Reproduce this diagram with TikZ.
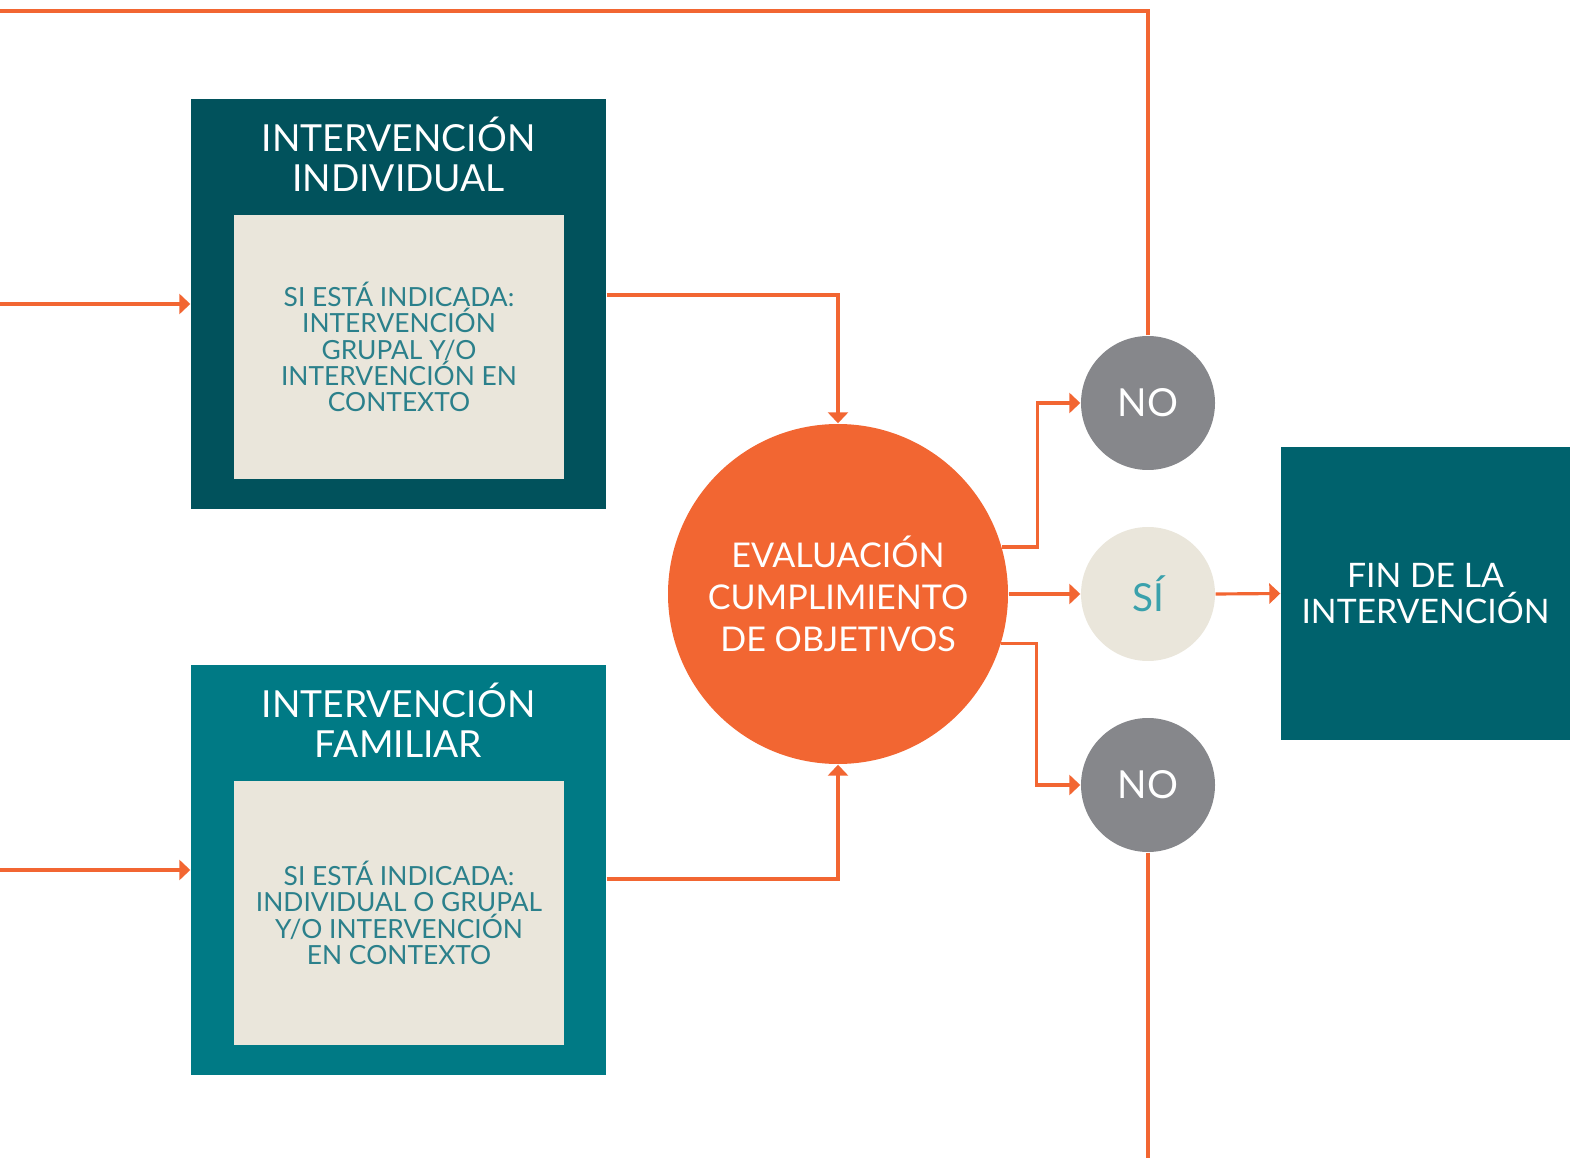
\documentclass[tikz,border=0pt]{standalone}
\usepackage{fontspec}
\setmainfont{Lato}
\usetikzlibrary{arrows.meta}

\definecolor{naranja}{HTML}{F26632}
\definecolor{tealoscuro}{HTML}{01525C}
\definecolor{tealmedio}{HTML}{007A85}
\definecolor{tealfin}{HTML}{00626D}
\definecolor{beige}{HTML}{EAE6DB}
\definecolor{gris}{HTML}{86878B}
\definecolor{textoteal}{HTML}{2B808B}
\definecolor{textosi}{HTML}{3AA1AC}

\begin{document}
\begin{tikzpicture}
\useasboundingbox (0,0) rectangle (15.70,-11.58);

\begin{scope}[every node/.style={rectangle,inner sep=0pt,align=center}]
    \node[fill=tealoscuro, minimum width=4.15cm, minimum height=4.10cm] (individual) at (3.985,-3.04) {};
    \node[text=white, font=\fontsize{10.6}{11.4}\selectfont] (individual_title) at (3.985,-1.54) {INTERVENCIÓN\\INDIVIDUAL};
    \node[fill=beige, text=textoteal, minimum width=3.30cm, minimum height=2.64cm, font=\fontsize{7.5}{7.5}\selectfont] (individual_text) at (3.99,-3.47) {SI ESTÁ INDICADA:\\INTERVENCIÓN\\GRUPAL Y/O\\INTERVENCIÓN EN\\CONTEXTO};

    \node[fill=tealmedio, minimum width=4.15cm, minimum height=4.10cm] (familiar) at (3.985,-8.70) {};
    \node[text=white, font=\fontsize{10.6}{11.4}\selectfont] (familiar_title) at (3.985,-7.20) {INTERVENCIÓN\\FAMILIAR};
    \node[fill=beige, text=textoteal, minimum width=3.30cm, minimum height=2.64cm, font=\fontsize{7.5}{7.5}\selectfont] (familiar_text) at (3.99,-9.13) {SI ESTÁ INDICADA:\\INDIVIDUAL O GRUPAL\\Y/O INTERVENCIÓN\\EN CONTEXTO};

    \node[fill=tealfin, text=white, minimum width=2.89cm, minimum height=2.93cm, font=\fontsize{9.6}{10}\selectfont] (fin) at (14.255,-5.935) {FIN DE LA\\INTERVENCIÓN};
\end{scope}

\begin{scope}[every node/.style={circle,inner sep=0pt,align=center}]
    \node[fill=naranja, text=white, minimum size=3.40cm, font=\fontsize{9.7}{12}\selectfont] (evaluacion) at (8.38,-5.94) {EVALUACIÓN\\CUMPLIMIENTO\\DE OBJETIVOS};
    \node[fill=gris, text=white, minimum size=1.34cm, font=\fontsize{11}{12}\selectfont] (no_arriba) at (11.48,-4.03) {NO};
    \node[fill=beige, text=textosi, minimum size=1.34cm, font=\fontsize{11}{12}\selectfont] (si) at (11.48,-5.94) {SÍ};
    \node[fill=gris, text=white, minimum size=1.34cm, font=\fontsize{11}{12}\selectfont] (no_abajo) at (11.48,-7.85) {NO};
\end{scope}

\coordinate (entrada_individual) at (0,-3.04);
\coordinate (entrada_familiar) at (0,-8.70);
\coordinate (retorno_arriba) at (0,-0.11);
\coordinate (retorno_abajo) at (11.48,-11.58);

\begin{scope}[>={Triangle[length=0.11cm,width=0.2cm]},
              every edge/.style={draw=naranja,line width=0.9pt}]
    \path [->] (entrada_individual) edge (individual.west);
    \path [->] (entrada_familiar) edge (familiar.west);
    \path [->] (evaluacion.east) edge (si.west);
    \path [->] (si.east) edge (fin.west);

    \draw [->, naranja, line width=0.9pt] ([yshift=0.09cm]individual.east) -| (evaluacion.north);
    \draw [->, naranja, line width=0.9pt] ([yshift=-0.09cm]familiar.east) -| (evaluacion.south);
    \draw [->, naranja, line width=0.9pt] (evaluacion.16) -- ++(0.35,0) |- (no_arriba.west);
    \draw [->, naranja, line width=0.9pt] (evaluacion.-17) -- ++(0.35,0) |- (no_abajo.west);
    \draw [naranja, line width=0.9pt] (no_arriba.north) |- (retorno_arriba);
    \draw [naranja, line width=0.9pt] (no_abajo.south) -- (retorno_abajo);
\end{scope}
\end{tikzpicture}
\end{document}
